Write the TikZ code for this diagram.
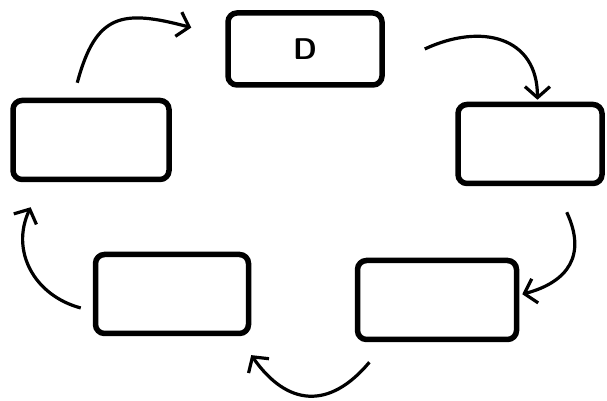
\documentclass[tikz,border=0pt]{standalone}
\usetikzlibrary{arrows.meta}
\begin{document}
\begin{tikzpicture}[x=1pt,y=1pt,
  box/.style={draw,line width=5.5pt,rounded corners=9pt,minimum height=79pt,inner sep=0pt},
  flow/.style={line width=3.2pt,-{Straight Barb[length=11pt,width=25pt]}}]
  \useasboundingbox (0,0) rectangle (607,401);
  % the five steps, b0 at the top, then clockwise
  \node[box,minimum width=154pt,minimum height=72pt,font=\sffamily\bfseries\fontsize{30}{32}\selectfont] (b0) at (305,352) {D};
  \foreach \i/\x/\y/\w in {1/530/257/144,2/437/101/159,3/172/107/153,4/91/261/156}{%
    \node[box,minimum width=\w] (b\i) at (\x,\y) {};
  }
  \draw[flow] ([xshift=40pt]b0.east) to[out=25,in=90,looseness=1.3] ([yshift=2pt]b1.80);
  \draw[flow] ([yshift=-26pt]b1.-49) to[out=-65,in=15,looseness=1.3] ([xshift=3pt]b2.4);
  \draw[flow] ([yshift=-20pt]b2.-148) to[out=-130,in=-55,looseness=1.35] ([yshift=-19pt]b3.-28);
  \draw[flow] ([xshift=-12pt]b3.190) to[out=165,in=-115,looseness=1.1] ([yshift=-25pt]b4.-145);
  \draw[flow] ([yshift=15pt]b4.108) to[out=75,in=165,looseness=1.45] ([xshift=-34pt]b0.165);
\end{tikzpicture}
\end{document}
